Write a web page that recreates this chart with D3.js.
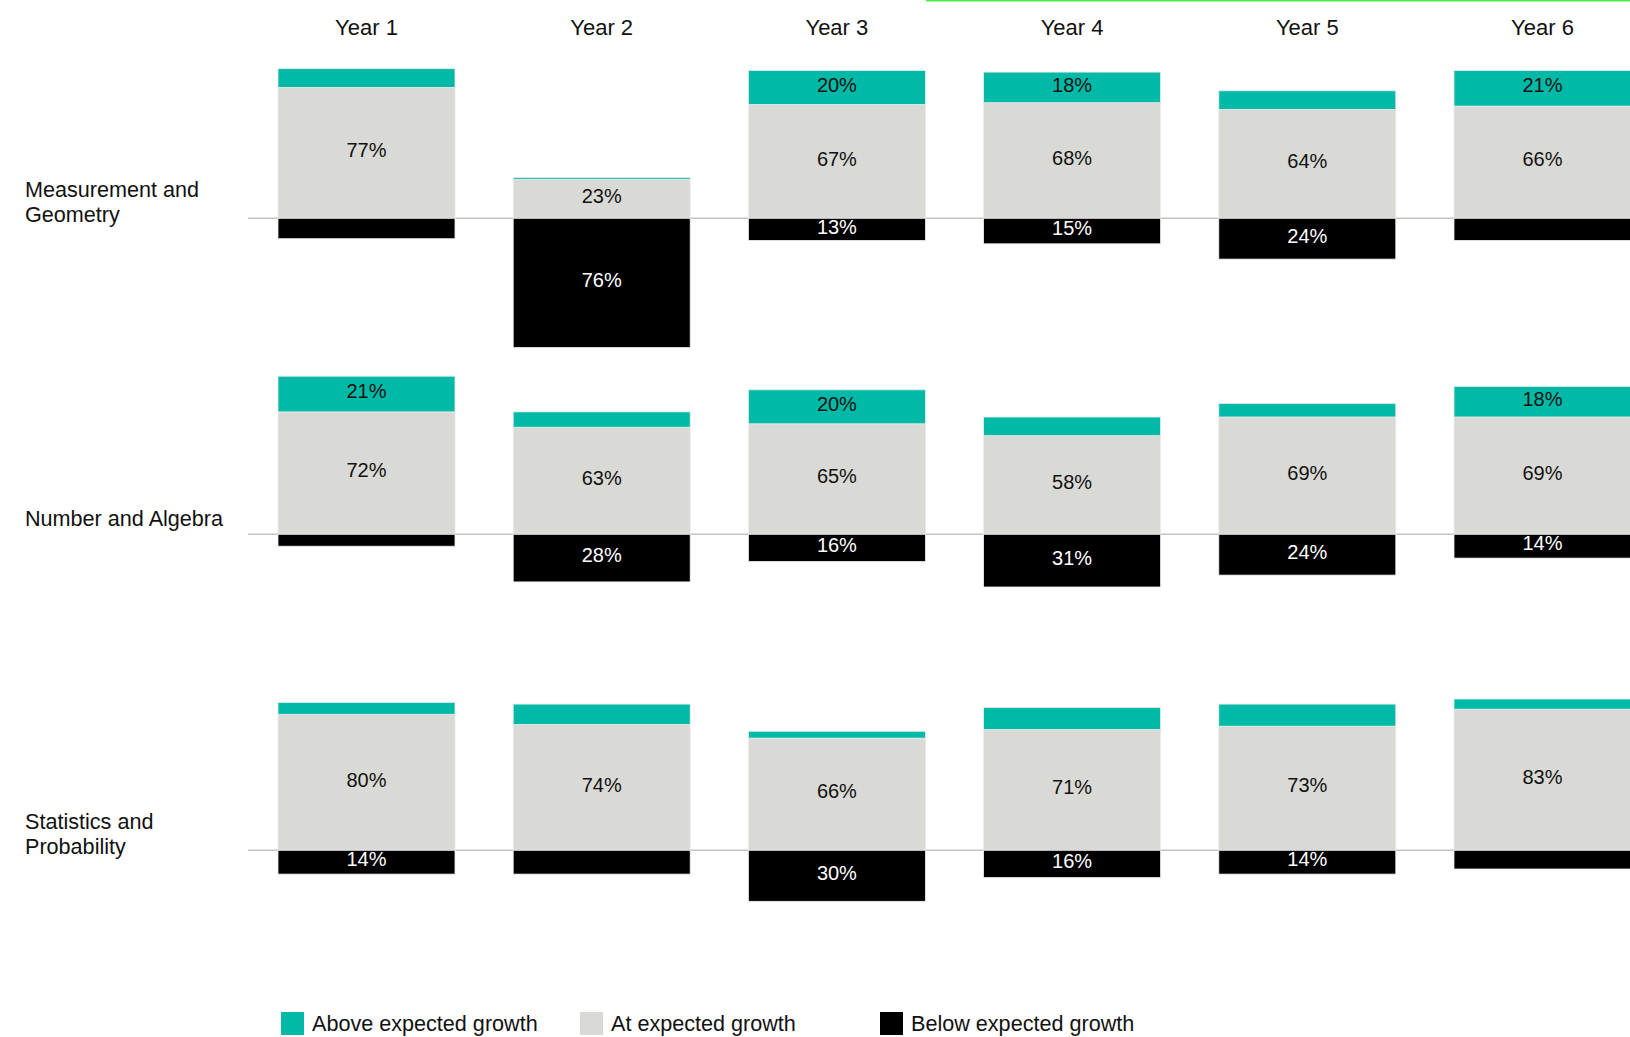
<!DOCTYPE html>
<html>
<head>
<meta charset="utf-8">
<script src="https://cdn.jsdelivr.net/npm/d3@7"></script>
<style>
  html, body { margin: 0; padding: 0; background: #ffffff; }
  svg { display: block; }
  text { font-family: "Liberation Sans", Arial, sans-serif; }
</style>
</head>
<body>
<svg id="chart" width="1630" height="1037"></svg>
<script>
// ---------- DATA ----------
const years = ["Year 1", "Year 2", "Year 3", "Year 4", "Year 5", "Year 6"];
const strands = ["Measurement and Geometry", "Number and Algebra", "Statistics and Probability"];
const strandLines = [["Measurement and", "Geometry"], ["Number and Algebra"], ["Statistics and", "Probability"]];
const seriesNames = ["Above expected growth", "At expected growth", "Below expected growth"];

// per strand (rows), per year (columns), percent of students
const aboveValues = [
  [11, 1, 20, 18, 11, 21],
  [21, 9, 20, 11, 8, 18],
  [7, 12, 4, 13, 13, 6]
];
const atValues = [
  [77, 23, 67, 68, 64, 66],
  [72, 63, 65, 58, 69, 69],
  [80, 74, 66, 71, 73, 83]
];
const belowValues = [
  [12, 76, 13, 15, 24, 13],
  [7, 28, 16, 31, 24, 14],
  [14, 14, 30, 16, 14, 11]
];
// which segments carry a printed value label
const aboveShown = [
  [false, false, true, true, false, true],
  [true, false, true, false, false, true],
  [false, false, false, false, false, false]
];
const atShown = [
  [true, true, true, true, true, true],
  [true, true, true, true, true, true],
  [true, true, true, true, true, true]
];
const belowShown = [
  [false, true, true, true, true, false],
  [false, true, true, true, true, true],
  [true, false, true, true, true, false]
];

const colors = ["#00b9a6", "#d9d9d5", "#000000"];
const labelColors = ["#111111", "#111111", "#ffffff"];

// ---------- SCALES ----------
const svg = d3.select("#chart");

const x = d3.scaleBand()
  .domain(years)
  .range([278, 278 + 235.2 * (6 - 0.2475)])
  .paddingInner(0.2475)
  .paddingOuter(0);

const rowBase = d3.scalePoint()
  .domain(strands)
  .range([218.3, 850.3]);

const h = d3.scaleLinear().domain([0, 100]).range([0, 170]);

// top artifact line
svg.append("rect").attr("x", 926).attr("y", 0).attr("width", 704).attr("height", 1.5).attr("fill", "#4cf04c");

// ---------- BUILD SEGMENTS ----------
const segments = [];
strands.forEach((s, i) => {
  const base = rowBase(s);
  years.forEach((yr, j) => {
    const a = atValues[i][j], ab = aboveValues[i][j], b = belowValues[i][j];
    segments.push({ s: 1, strand: s, year: yr, v: a, y0: base - h(a), y1: base, shown: atShown[i][j] });
    segments.push({ s: 0, strand: s, year: yr, v: ab, y0: base - h(a + ab), y1: base - h(a), shown: aboveShown[i][j] });
    segments.push({ s: 2, strand: s, year: yr, v: b, y0: base, y1: base + h(b), shown: belowShown[i][j] });
  });
});

// baselines (behind bars)
svg.append("g").selectAll("line")
  .data(strands)
  .join("line")
  .attr("x1", 248).attr("x2", 1630)
  .attr("y1", d => rowBase(d)).attr("y2", d => rowBase(d))
  .attr("stroke", "#c3c3c3").attr("stroke-width", 1.5);

// bars
svg.append("g").selectAll("rect")
  .data(segments)
  .join("rect")
  .attr("x", d => x(d.year))
  .attr("width", x.bandwidth())
  .attr("y", d => d.y0)
  .attr("height", d => Math.max(0, d.y1 - d.y0))
  .attr("fill", d => colors[d.s])
  .attr("stroke", "#ececec")
  .attr("stroke-width", 0.8);

// value labels
svg.append("g").selectAll("text")
  .data(segments.filter(d => d.shown))
  .join("text")
  .attr("x", d => x(d.year) + x.bandwidth() / 2)
  .attr("y", d => (d.y0 + d.y1) / 2 - 3)
  .attr("dy", "0.36em")
  .attr("text-anchor", "middle")
  .attr("font-size", 20)
  .attr("fill", d => labelColors[d.s])
  .text(d => d.v + "%");

// year headers
svg.append("g").selectAll("text")
  .data(years)
  .join("text")
  .attr("x", d => x(d) + x.bandwidth() / 2)
  .attr("y", 27)
  .attr("dy", "0.36em")
  .attr("text-anchor", "middle")
  .attr("font-size", 22)
  .attr("fill", "#111111")
  .text(d => d);

// strand labels
const rowG = svg.append("g").selectAll("text")
  .data(strands)
  .join("text")
  .attr("font-size", 21.6)
  .attr("fill", "#111111");
rowG.each(function (d, i) {
  const lines = strandLines[i];
  const center = rowBase(d) - 16;
  d3.select(this).selectAll("tspan")
    .data(lines)
    .join("tspan")
    .attr("x", 25)
    .attr("y", (l, k) => center + (k - (lines.length - 1) / 2) * 25 + 7.5)
    .text(l => l);
});

// legend
const legendX = [281, 580, 880];
const lg = svg.append("g").selectAll("g")
  .data(seriesNames)
  .join("g")
  .attr("transform", (d, i) => `translate(${legendX[i]},1012)`);
lg.append("rect")
  .attr("width", 23).attr("height", 23)
  .attr("fill", (d, i) => colors[i]);
lg.append("text")
  .attr("x", 31).attr("y", 11.5).attr("dy", "0.36em")
  .attr("font-size", 21.6)
  .attr("fill", "#111111")
  .text(d => d);
</script>
</body>
</html>
